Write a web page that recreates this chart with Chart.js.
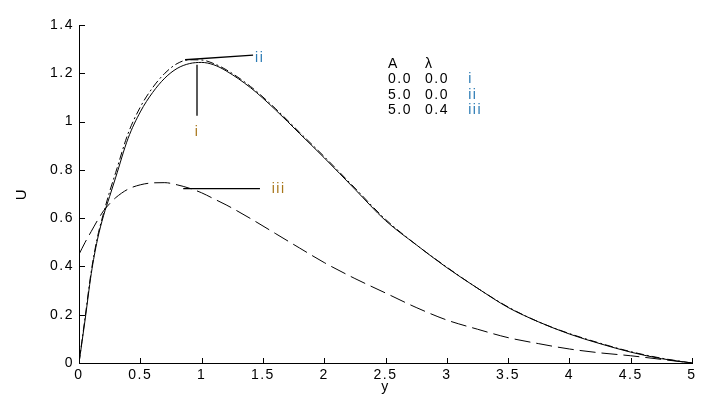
<!DOCTYPE html>
<html lang="en">
<head>
    <meta charset="UTF-8">
    <title>U versus y</title>
    <script src="https://cdn.jsdelivr.net/npm/chart.js"></script>
    <style>
        html, body { margin: 0; padding: 0; background: #fff; }
        #wrap { width: 710px; height: 408px; }
    </style>
</head>
<body>
    <div id="wrap"><canvas id="velChart" width="710" height="408"></canvas></div>
    <script>
        // y positions shared by all three profiles
        const yPts = [0, 0.05, 0.1, 0.15, 0.2, 0.25, 0.3, 0.4, 0.5, 0.6, 0.7, 0.8, 0.9, 1.0, 1.1, 1.2,
                      1.4, 1.6, 1.8, 2.0, 2.25, 2.5, 2.75, 3.0, 3.25, 3.5, 3.75, 4.0, 4.25, 4.5, 4.75, 5.0];

        // i : A=0.0, lambda=0.0 (solid)
        const uCaseI = [0, 0.18, 0.37, 0.51, 0.61, 0.69, 0.77, 0.93, 1.04, 1.12, 1.18, 1.22, 1.24, 1.245, 1.235, 1.21,
                        1.14, 1.05, 0.95, 0.85, 0.72, 0.59, 0.49, 0.395, 0.31, 0.23, 0.17, 0.12, 0.08, 0.045, 0.018, 0];
        // ii : A=5.0, lambda=0.0 (dash-dot)
        const uCaseII = [0, 0.19, 0.38, 0.52, 0.62, 0.71, 0.79, 0.95, 1.06, 1.14, 1.2, 1.24, 1.256, 1.255, 1.24, 1.215,
                         1.145, 1.055, 0.955, 0.855, 0.725, 0.595, 0.49, 0.397, 0.31, 0.232, 0.17, 0.122, 0.082, 0.047, 0.02, 0];
        // iii : A=5.0, lambda=0.4 (dashed)
        const uCaseIII = [0.45, 0.50, 0.545, 0.59, 0.63, 0.66, 0.685, 0.72, 0.738, 0.746, 0.747, 0.738, 0.724, 0.705, 0.68, 0.655,
                          0.598, 0.537, 0.476, 0.416, 0.35, 0.29, 0.23, 0.178, 0.14, 0.105, 0.08, 0.058, 0.042, 0.03, 0.015, 0];

        // pointer lines and their labels (data units)
        const pointerText = ['i', 'ii', 'iii'];
        const pointerX = [[0.9625, 0.9625], [0.865, 1.42], [0.85, 1.476]];
        const pointerU = [[1.235, 1.024], [1.256, 1.275], [0.722, 0.722]];
        const pointerLabelX = [0.9625, 1.436, 1.572];
        const pointerLabelU = [0.958, 1.264, 0.722];

        // parameter table
        const tableRows = [['A', '\u03bb', ''], ['0.0', '0.0', 'i'], ['5.0', '0.0', 'ii'], ['5.0', '0.4', 'iii']];
        const tableColX = [2.52, 2.822, 3.175];
        const tableRowU = [1.239, 1.177, 1.111, 1.046];

        const xTicks = [0, 0.5, 1, 1.5, 2, 2.5, 3, 3.5, 4, 4.5, 5];
        const uTicks = [0, 0.2, 0.4, 0.6, 0.8, 1, 1.2, 1.4];

        const FONT = "'Liberation Sans', Arial, sans-serif";
        const toPoints = (vals) => vals.map((v, i) => ({ x: yPts[i], y: v }));

        // canvas letter spacing, the reference text is spaced out a bit
        const spacingPlugin = {
            id: 'spacing',
            beforeDraw(chart) { chart.ctx.letterSpacing = '1.5px'; }
        };

        // inward tick marks, pointer lines and the parameter table
        const extrasPlugin = {
            id: 'extras',
            afterDraw(chart) {
                const ctx = chart.ctx;
                const xs = chart.scales.x, ys = chart.scales.y;
                const area = chart.chartArea;
                ctx.save();
                ctx.strokeStyle = '#000';
                ctx.lineWidth = 1;
                ctx.beginPath();
                xTicks.forEach(t => {
                    const px = Math.round(xs.getPixelForValue(t)) + 0.5;
                    ctx.moveTo(px, area.bottom);
                    ctx.lineTo(px, area.bottom - 5);
                });
                uTicks.forEach(t => {
                    const py = Math.round(ys.getPixelForValue(t)) + 0.5;
                    ctx.moveTo(area.left, py);
                    ctx.lineTo(area.left + 6, py);
                });
                ctx.stroke();

                ctx.lineWidth = 1.3;
                pointerX.forEach((xx, i) => {
                    ctx.beginPath();
                    ctx.moveTo(xs.getPixelForValue(xx[0]), ys.getPixelForValue(pointerU[i][0]));
                    ctx.lineTo(xs.getPixelForValue(xx[1]), ys.getPixelForValue(pointerU[i][1]));
                    ctx.stroke();
                });

                ctx.font = '14px ' + FONT;
                ctx.letterSpacing = '1.5px';
                ctx.textBaseline = 'middle';
                const romanColors = ['#a8761a', '#2a7ab4', '#a8761a'];
                pointerText.forEach((txt, i) => {
                    ctx.fillStyle = romanColors[i];
                    ctx.textAlign = i === 0 ? 'center' : 'left';
                    ctx.fillText(txt, xs.getPixelForValue(pointerLabelX[i]), ys.getPixelForValue(pointerLabelU[i]));
                });

                ctx.textAlign = 'left';
                tableRows.forEach((row, r) => {
                    row.forEach((txt, c) => {
                        if (!txt) return;
                        ctx.fillStyle = c === 2 ? '#2a7ab4' : '#000';
                        ctx.fillText(txt, xs.getPixelForValue(tableColX[c]), ys.getPixelForValue(tableRowU[r]));
                    });
                });
                ctx.restore();
            }
        };

        const ctx = document.getElementById('velChart').getContext('2d');
        new Chart(ctx, {
            type: 'line',
            data: {
                datasets: [
                    { label: 'i', data: toPoints(uCaseI), borderColor: '#000', borderWidth: 1 },
                    { label: 'ii', data: toPoints(uCaseII), borderColor: '#000', borderWidth: 1, borderDash: [8, 3, 2, 3] },
                    { label: 'iii', data: toPoints(uCaseIII), borderColor: '#000', borderWidth: 1, borderDash: [16, 6] }
                ]
            },
            options: {
                responsive: false,
                animation: false,
                events: [],
                elements: {
                    point: { radius: 0 },
                    line: { cubicInterpolationMode: 'monotone', fill: false }
                },
                layout: { padding: { left: 0, top: 25, right: 18, bottom: 0 } },
                plugins: {
                    legend: { display: false },
                    tooltip: { enabled: false }
                },
                scales: {
                    x: {
                        type: 'linear',
                        min: 0,
                        max: 5,
                        afterFit(scale) { scale.height = 45; },
                        afterBuildTicks(scale) { scale.ticks = xTicks.map(v => ({ value: v })); },
                        grid: { display: false, drawTicks: false },
                        border: { display: true, color: '#000', width: 1 },
                        ticks: { color: '#000', padding: 4, maxRotation: 0, callback: v => String(v), font: { family: FONT, size: 14 } },
                        title: { display: true, text: 'y', color: '#000', padding: { top: 0, bottom: 12 }, font: { family: FONT, size: 14 } }
                    },
                    y: {
                        min: 0,
                        max: 1.4,
                        afterFit(scale) { scale.width = 79; },
                        afterBuildTicks(scale) { scale.ticks = uTicks.map(v => ({ value: v })); },
                        grid: { display: false, drawTicks: false },
                        border: { display: true, color: '#000', width: 1 },
                        ticks: { color: '#000', padding: 5, callback: v => String(v), font: { family: FONT, size: 14 } },
                        title: { display: true, text: 'U', color: '#000', padding: { top: 13, bottom: 0 }, font: { family: FONT, size: 15 } }
                    }
                }
            },
            plugins: [spacingPlugin, extrasPlugin]
        });
    </script>
</body>
</html>
